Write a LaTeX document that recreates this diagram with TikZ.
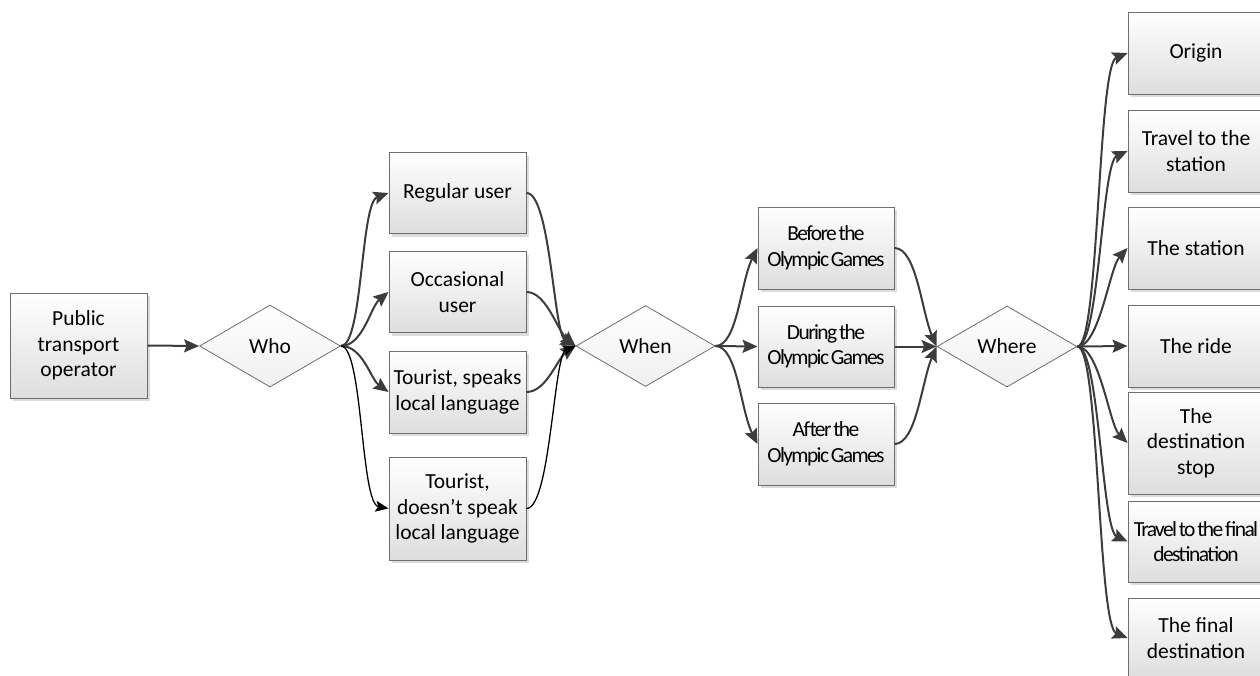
\documentclass[tikz,border=0pt]{standalone}
\usepackage{fontspec}
\setmainfont{Carlito}
\newfontfamily\condfont[LetterSpace=-7.5,WordSpace=0.55]{Carlito}
\usetikzlibrary{arrows.meta,shapes.geometric,shadows}
\definecolor{linecol}{HTML}{3C3C3C}
\definecolor{bordercol}{HTML}{6E6E6E}
\tikzset{
  x=1pt,y=-1pt,
  box/.style={draw=bordercol, line width=1pt, top color=white, bottom color=black!13,
    minimum width=137, inner sep=0pt, align=center,
    font=\fontsize{21.5}{25.5}\selectfont,
    drop shadow={shadow xshift=3pt, shadow yshift=-3pt, fill=black!30, opacity=0.45}},
  dia/.style={diamond, draw=bordercol, line width=0.8pt, top color=white, bottom color=black!6,
    inner sep=0pt, font=\fontsize{21.5}{25.5}\selectfont},
  conn/.style={draw=linecol, line width=2pt, -{Stealth[length=15pt,width=13pt,inset=2.5pt]}},
  thinconn/.style={draw=black, line width=1.3pt, -{Stealth[length=13pt,width=11pt,inset=2.5pt]}},
}
\begin{document}
\begin{tikzpicture}
\useasboundingbox (0,0) rectangle (1260,675);
% nodes
\node[box, minimum height=105] (op) at (78.5,345.5) {Public\\transport\\operator};
\node[dia, minimum width=141, minimum height=82] (who) at (270,346) {Who};
\node[box, minimum height=81] (reg) at (457.5,193) {Regular user};
\node[box, minimum height=81] (occ) at (457.5,292) {Occasional\\user};
\node[box, minimum height=82] (tsp) at (457.5,392) {Tourist, speaks\\local language};
\node[box, minimum height=103] (tds) at (457.5,508.5) {Tourist,\\doesn’t speak\\local language};
\node[dia, minimum width=139, minimum height=81] (when) at (645.5,346) {When};
\node[box, minimum width=136, minimum height=82] (bef) at (826,248) {\condfont Before the\\\condfont Olympic Games};
\node[box, minimum width=136, minimum height=81] (dur) at (826,346.5) {\condfont During the\\\condfont Olympic Games};
\node[box, minimum width=136, minimum height=82] (aft) at (826,444) {\condfont After the\\\condfont Olympic Games};
\node[dia, minimum width=140, minimum height=81] (where) at (1007,346.5) {Where};
\node[box, minimum width=136, minimum height=82] (ori) at (1196,53) {Origin};
\node[box, minimum width=136, minimum height=82] (tts) at (1196,151) {Travel to the\\station};
\node[box, minimum width=136, minimum height=82] (sta) at (1196,248) {The station};
\node[box, minimum width=136, minimum height=82] (rid) at (1196,346) {The ride};
\node[box, minimum width=136, minimum height=102] (dst) at (1196,443) {The\\destination\\stop};
\node[box, minimum width=136, minimum height=81] (ttf) at (1196,541.5) {\condfont Travel to the final\\\condfont destination};
\node[box, minimum width=136, minimum height=80] (fin) at (1196,638) {The final\\destination};
% connectors
\draw[conn] (op.east) -- (who.west);
\draw[conn] (who.east) .. controls +(22,0) and +(-28,10) .. (reg.west);
\draw[conn] (who.east) .. controls +(22,0) and +(-18,15) .. (occ.west);
\draw[conn] (who.east) .. controls +(22,0) and +(-18,-13) .. (tsp.west);
\draw[thinconn] (who.east) .. controls +(22,0) and +(-28,-5) .. (tds.west);
\draw[conn] (reg.east) .. controls +(24,0) and +(-22,-12) .. (when.west);
\draw[conn] (occ.east) .. controls +(20,0) and +(-18,-15) .. (when.west);
\draw[conn] (tsp.east) .. controls +(20,0) and +(-18,12) .. (when.west);
\draw[thinconn] (tds.east) .. controls +(24,0) and +(-22,8) .. (when.west);
\draw[conn] (when.east) .. controls +(22,0) and +(-17,34) .. (bef.west);
\draw[conn] (when.east) -- (dur.west);
\draw[conn] (when.east) .. controls +(22,0) and +(-17,-34) .. (aft.west);
\draw[conn] (bef.east) .. controls +(22,0) and +(-15,-35) .. (where.west);
\draw[conn] (dur.east) -- (where.west);
\draw[conn] (aft.east) .. controls +(22,0) and +(-15,35) .. (where.west);
\draw[conn] (where.east) .. controls +(22,0) and +(-30,12) .. (ori.west);
\draw[conn] (where.east) .. controls +(22,0) and +(-26,12) .. (tts.west);
\draw[conn] (where.east) .. controls +(22,0) and +(-18,20) .. (sta.west);
\draw[conn] (where.east) -- (rid.west);
\draw[conn] (where.east) .. controls +(22,0) and +(-18,-18) .. (dst.west);
\draw[conn] (where.east) .. controls +(22,0) and +(-26,-12) .. (ttf.west);
\draw[conn] (where.east) .. controls +(22,0) and +(-30,-12) .. (fin.west);
\end{tikzpicture}
\end{document}
